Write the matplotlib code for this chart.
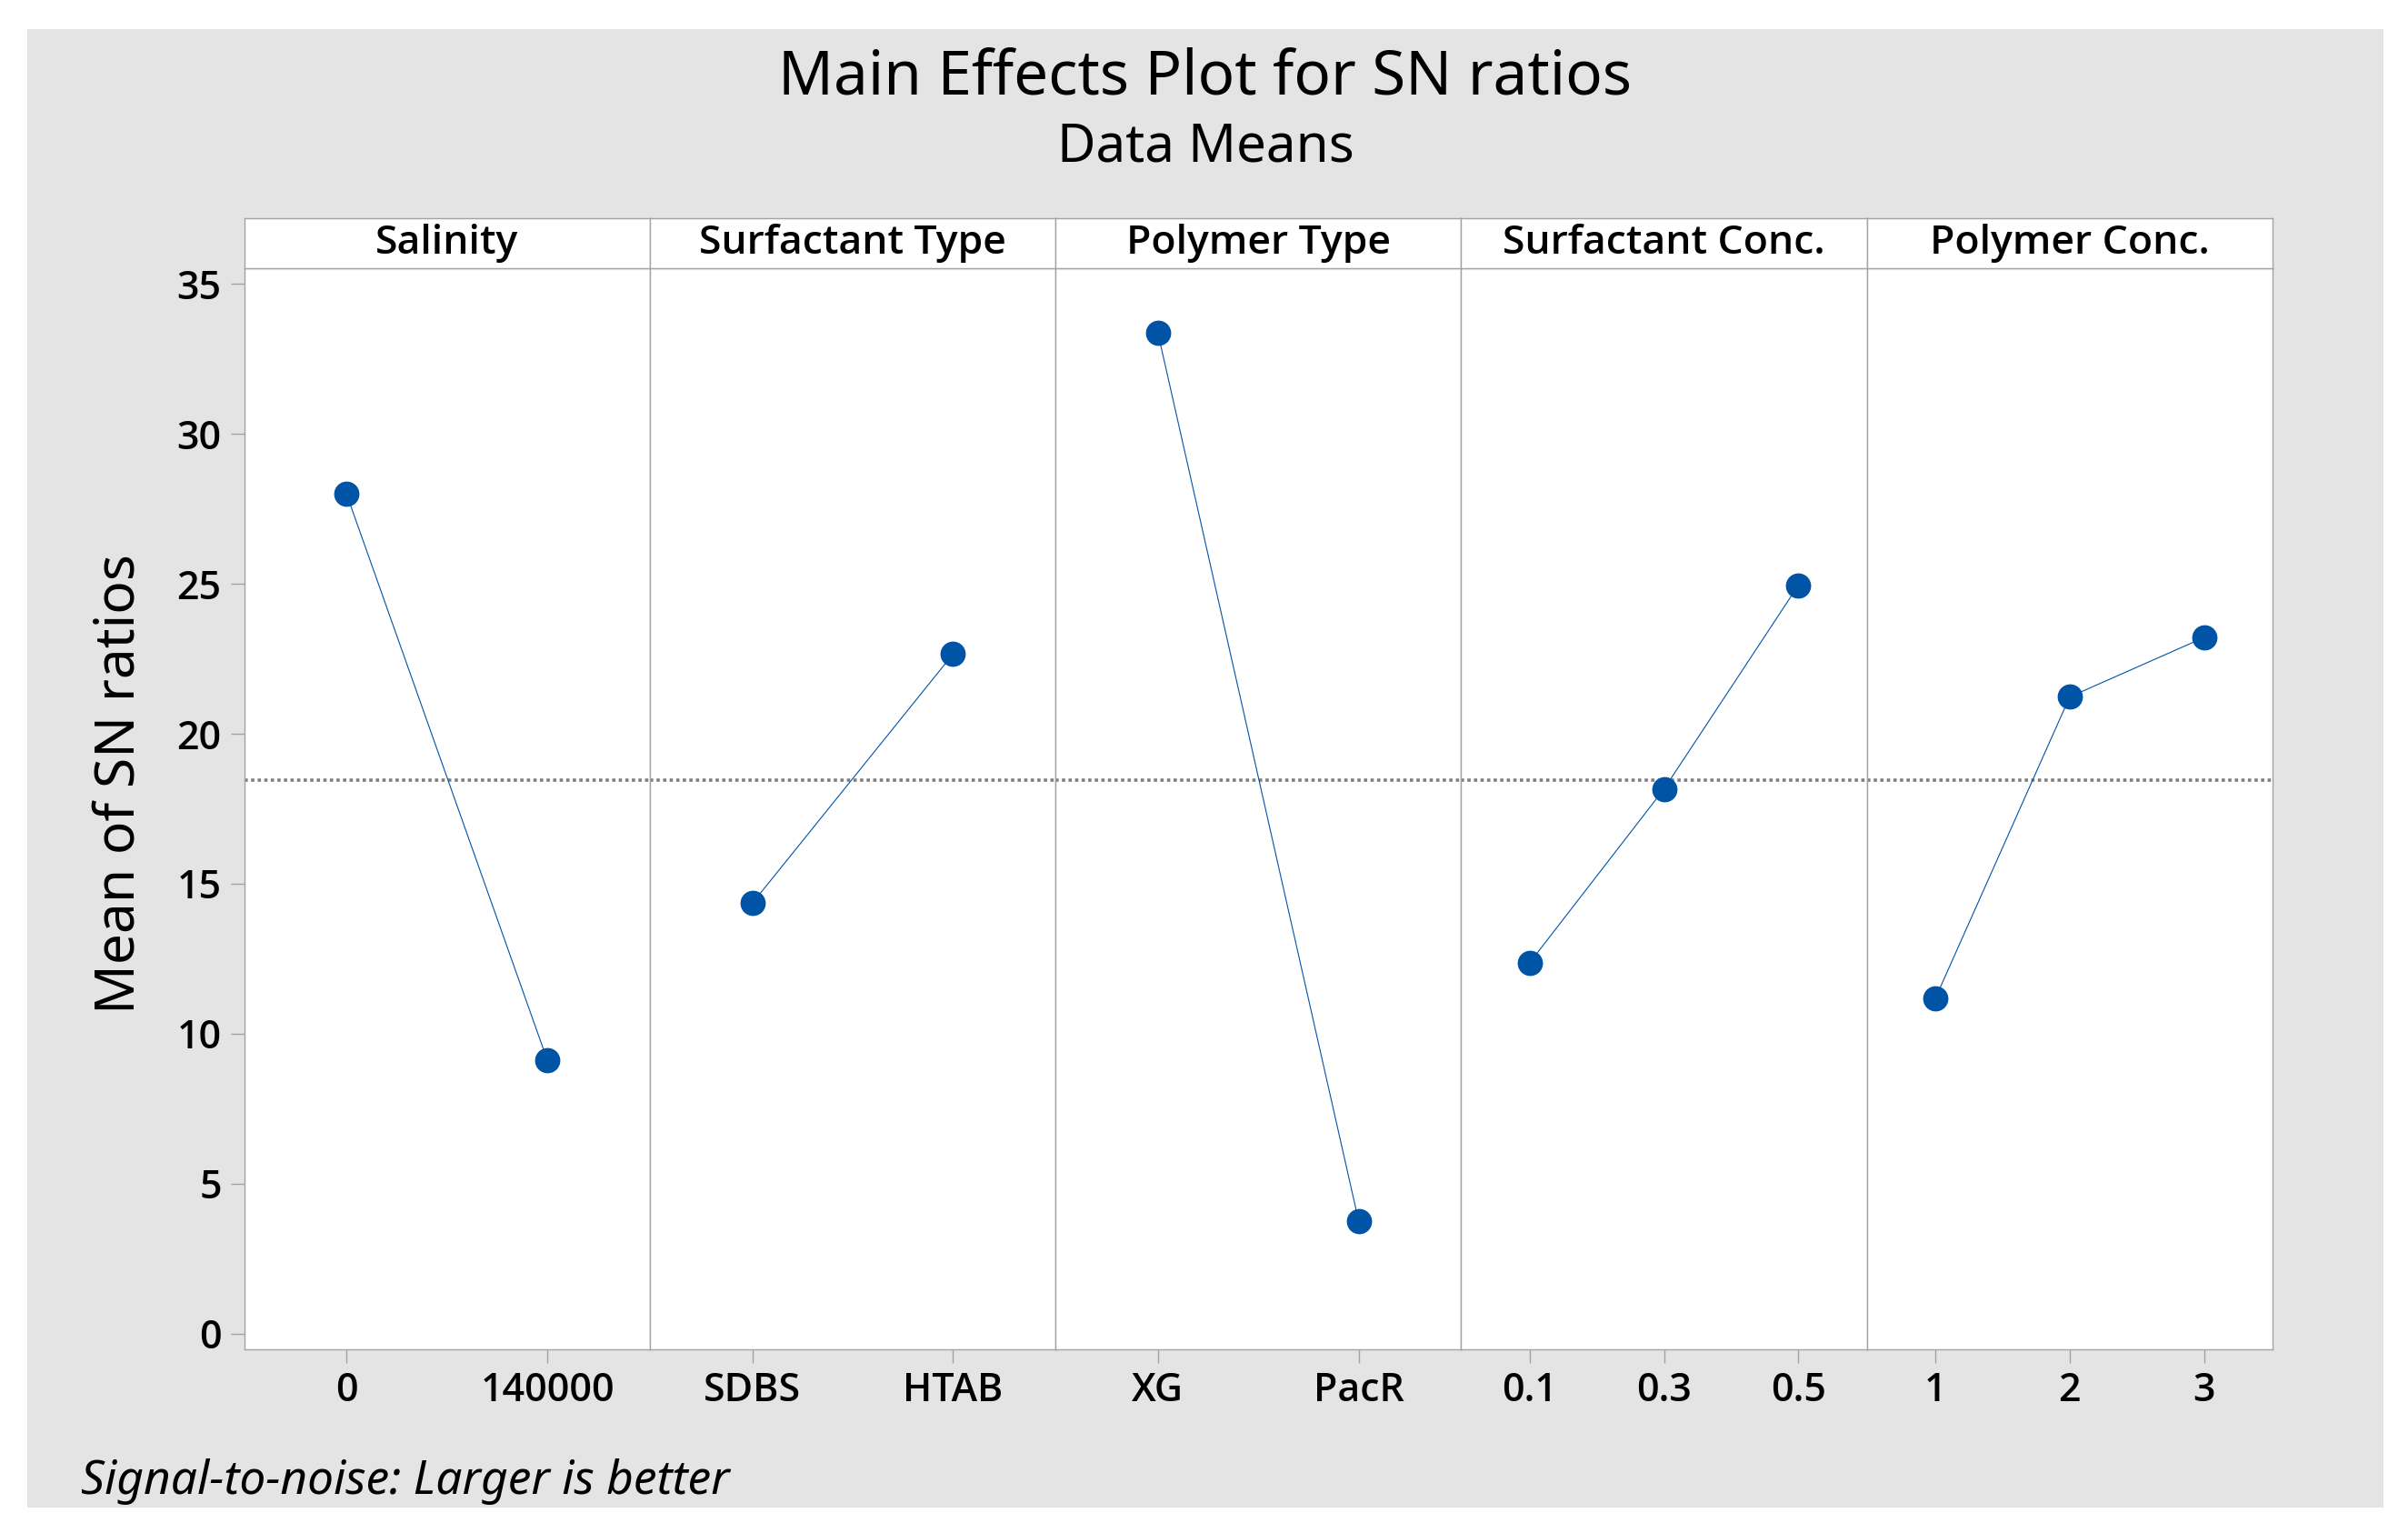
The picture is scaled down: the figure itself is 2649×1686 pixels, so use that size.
import matplotlib.pyplot as plt
import matplotlib.patches as patches

# values (Minitab main effects plot)
factors = ["Salinity", "Surfactant Type", "Polymer Type", "Surfactant Conc.", "Polymer Conc."]
salinity_levels = ["0", "140000"]
salinity_means = [27.99, 9.11]
surf_type_levels = ["SDBS", "HTAB"]
surf_type_means = [14.35, 22.66]
poly_type_levels = ["XG", "PacR"]
poly_type_means = [33.36, 3.74]
surf_conc_levels = ["0.1", "0.3", "0.5"]
surf_conc_means = [12.37, 18.16, 24.95]
poly_conc_levels = ["1", "2", "3"]
poly_conc_means = [11.18, 21.23, 23.21]
grand_mean = 18.45
y_ticks = [0, 5, 10, 15, 20, 25, 30, 35]

levels = [salinity_levels, surf_type_levels, poly_type_levels, surf_conc_levels, poly_conc_levels]
means = [salinity_means, surf_type_means, poly_type_means, surf_conc_means, poly_conc_means]

plt.rcParams['font.family'] = ['Noto Sans', 'Open Sans', 'DejaVu Sans']
SEMI = ['Open Sans', 'Noto Sans', 'DejaVu Sans']  # Open Sans has a semibold face here

W, H = 2649, 1686
fig = plt.figure(figsize=(W / 100, H / 100), dpi=100)
fig.patch.set_facecolor('white')

# grey frame behind everything
bg = patches.Rectangle((30 / W, 1 - 1658 / H), (2622 - 30) / W, (1658 - 32) / H,
                       transform=fig.transFigure, facecolor='#e4e4e4', edgecolor='none', zorder=-10)
fig.patches.append(bg)

BLUE = '#0054a6'
EDGE = '#a3a3a3'
left, right = 268.6, 2500
top, bottom, strip_top = 295, 1484, 240
pw = (right - left) / 5

for i, (name, lev, vals) in enumerate(zip(factors, levels, means)):
    x0 = (left + i * pw) / W
    ax = fig.add_axes([x0, 1 - bottom / H, pw / W, (bottom - top) / H])
    xs = list(range(1, len(lev) + 1))
    ax.plot(xs, vals, color=BLUE, lw=0.8, marker='o', ms=19, mfc=BLUE, mec=BLUE, zorder=3)
    ax.axhline(grand_mean, color='#7f7f7f', ls=(0, (1, 1)), lw=2.6, zorder=1)
    ax.set_xlim(0.49, len(lev) + 0.51)
    ax.set_ylim(-0.52, 35.52)
    ax.set_xticks(xs)
    ax.set_xticklabels(lev, family=SEMI, fontweight='semibold')
    ax.tick_params(axis='x', length=11, width=1, color=EDGE, pad=6, labelsize=31)
    if i == 0:
        ax.set_yticks(y_ticks)
        ax.set_yticklabels([str(t) for t in y_ticks], family=SEMI, fontweight='semibold')
        ax.tick_params(axis='y', length=11, width=1, color=EDGE, pad=7, labelsize=31)
    else:
        ax.set_yticks([])
    for sp in ax.spines.values():
        sp.set_color(EDGE)
        sp.set_linewidth(1)

    # strip with factor name
    sax = fig.add_axes([x0, 1 - top / H, pw / W, (top - strip_top) / H])
    sax.set_xticks([])
    sax.set_yticks([])
    for sp in sax.spines.values():
        sp.set_color(EDGE)
        sp.set_linewidth(1)
    sax.text(0.5, 0.5, name, ha='center', va='center', fontsize=32,
             family=SEMI, fontweight='semibold', transform=sax.transAxes)

fig.text(1326 / W, 1 - 103 / H, "Main Effects Plot for SN ratios", ha='center', va='baseline',
         fontsize=48.5)
fig.text(1326 / W, 1 - 177 / H, "Data Means", ha='center', va='baseline', fontsize=42)
fig.text(132 / W, 1 - 862 / H, "Mean of SN ratios", ha='center', va='center', rotation=90,
         fontsize=43.5)
fig.text(89 / W, 1 - 1643 / H, "Signal-to-noise: Larger is better", ha='left', va='baseline',
         fontsize=37, style='italic')

fig.savefig('out.png', dpi=100, facecolor='white')
